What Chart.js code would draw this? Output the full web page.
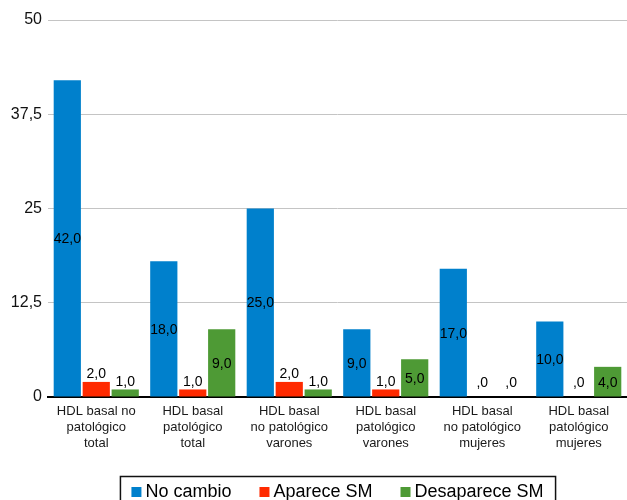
<!DOCTYPE html>
<html>
<head>
<meta charset="utf-8">
<script src="https://cdn.jsdelivr.net/npm/chart.js@4/dist/chart.umd.min.js"></script>
<style>
  html, body { margin: 0; padding: 0; background: #fff; }
  #wrap { width: 627px; height: 500px; }
</style>
</head>
<body>
<div id="wrap"><canvas id="grafico"></canvas></div>
<script>
const categorias = [
  ['HDL basal no', 'patológico', 'total'],
  ['HDL basal', 'patológico', 'total'],
  ['HDL basal', 'no patológico', 'varones'],
  ['HDL basal', 'patológico', 'varones'],
  ['HDL basal', 'no patológico', 'mujeres'],
  ['HDL basal', 'patológico', 'mujeres']
];
const noCambio = [42, 18, 25, 9, 17, 10];
const apareceSM = [2, 1, 2, 1, 0, 0];
const desapareceSM = [1, 9, 1, 5, 0, 4];
const ticksY = [0, 12.5, 25, 37.5, 50];

const FUENTE = '"Liberation Sans", Arial, Helvetica, sans-serif';

function formatoValor(v) {
  if (v === 0) return ',0';
  return v.toFixed(1).replace('.', ',');
}

// etiquetas de valor dentro o encima de cada barra
const etiquetasBarras = {
  id: 'etiquetasBarras',
  afterDatasetsDraw(chart) {
    const ctx = chart.ctx;
    ctx.save();
    ctx.font = '14px ' + FUENTE;
    ctx.fillStyle = '#000';
    ctx.textAlign = 'center';
    chart.data.datasets.forEach((ds, i) => {
      const meta = chart.getDatasetMeta(i);
      meta.data.forEach((bar, j) => {
        const alto = bar.base - bar.y;
        const texto = formatoValor(ds.data[j]);
        if (alto >= 22) {
          ctx.textBaseline = 'middle';
          ctx.fillText(texto, bar.x, (bar.y + bar.base) / 2 + 1);
        } else {
          ctx.textBaseline = 'bottom';
          ctx.fillText(texto, bar.x, Math.min(bar.y - 0.5, bar.base - 7));
        }
      });
    });
    ctx.restore();
  }
};

// leyenda con recuadro, como en el original
const leyendaRecuadro = {
  id: 'leyendaRecuadro',
  afterDraw(chart) {
    const ctx = chart.ctx;
    const area = chart.chartArea;
    ctx.save();
    ctx.font = '18px ' + FUENTE;
    const cuadro = 10, sep = 4, entre = 28;
    const items = chart.data.datasets.map(ds => ({
      texto: ds.label,
      color: ds.backgroundColor,
      ancho: ctx.measureText(ds.label).width
    }));
    let total = 0;
    items.forEach((it, k) => {
      total += cuadro + sep + it.ancho + (k > 0 ? entre : 0);
    });
    const centro = (area.left + area.right) / 2;
    let x = centro - total / 2;
    ctx.strokeStyle = '#111';
    ctx.lineWidth = 1.5;
    ctx.strokeRect(x - 11, 476.5, total + 23, 40);
    ctx.textBaseline = 'alphabetic';
    ctx.textAlign = 'left';
    items.forEach(it => {
      ctx.fillStyle = it.color;
      ctx.fillRect(x, 487, cuadro, cuadro);
      ctx.fillStyle = '#000';
      ctx.fillText(it.texto, x + cuadro + sep, 497);
      x += cuadro + sep + it.ancho + entre;
    });
    ctx.restore();
  }
};

new Chart(document.getElementById('grafico'), {
  type: 'bar',
  data: {
    labels: categorias,
    datasets: [
      { label: 'No cambio', data: noCambio, backgroundColor: '#0080cc' },
      { label: 'Aparece SM', data: apareceSM, backgroundColor: '#ff2a00' },
      { label: 'Desaparece SM', data: desapareceSM, backgroundColor: '#4e9a35' }
    ]
  },
  options: {
    responsive: true,
    maintainAspectRatio: false,
    animation: false,
    devicePixelRatio: 1,
    layout: { padding: { top: 20, right: 0, bottom: 43, left: 0 } },
    datasets: {
      bar: { categoryPercentage: 0.9, barPercentage: 0.94 }
    },
    plugins: {
      legend: { display: false },
      tooltip: { enabled: false }
    },
    scales: {
      x: {
        grid: { display: false, drawTicks: false },
        border: { display: true, color: '#000', width: 2 },
        afterFit: scale => { scale.height = 60; },
        ticks: {
          autoSkip: false,
          maxRotation: 0,
          padding: 7,
          color: '#1a1a1a',
          font: { family: FUENTE, size: 13, lineHeight: 1.2 }
        }
      },
      y: {
        min: 0,
        max: 50,
        afterFit: scale => { scale.width = 48; },
        afterBuildTicks: scale => {
          scale.ticks = ticksY.map(v => ({ value: v }));
        },
        grid: { color: '#c4c4c4', lineWidth: 1, drawTicks: false },
        border: { display: false },
        ticks: {
          padding: 6,
          color: '#111',
          font: { family: FUENTE, size: 16 },
          callback: v => String(v).replace('.', ',')
        }
      }
    }
  },
  plugins: [etiquetasBarras, leyendaRecuadro]
});
</script>
</body>
</html>
